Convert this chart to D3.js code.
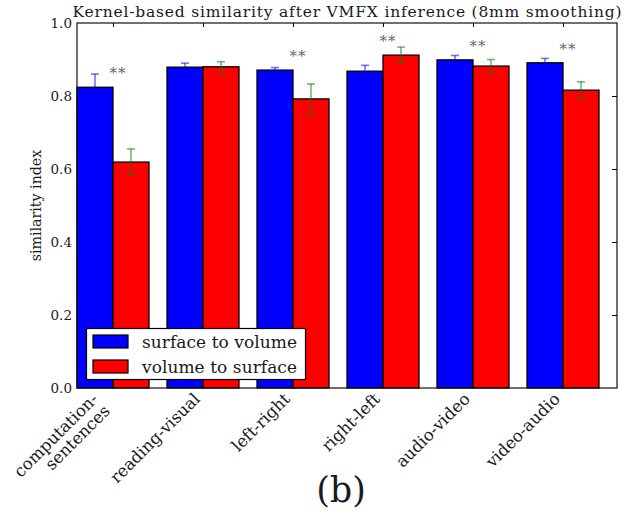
<!DOCTYPE html>
<html>
<head>
<meta charset="utf-8">
<script src="https://cdn.jsdelivr.net/npm/d3@7"></script>
<style>
  html, body { margin: 0; padding: 0; background: #fff; }
  svg { display: block; }
</style>
</head>
<body>
<script>
// Similarity index per contrast, for both projection directions
const categories = ["computation-\nsentences", "reading-visual", "left-right", "right-left", "audio-video", "video-audio"];
const surfaceToVolume    = [0.824, 0.879, 0.871, 0.868, 0.899, 0.891];
const surfaceToVolumeErr = [0.036, 0.011, 0.007, 0.016, 0.012, 0.012];
const volumeToSurface    = [0.619, 0.880, 0.792, 0.912, 0.882, 0.816];
const volumeToSurfaceErr = [0.036, 0.014, 0.041, 0.022, 0.018, 0.023];
const significant = [true, false, true, true, true, true];
const seriesNames = ["surface to volume", "volume to surface"];
const yTicks = [0.0, 0.2, 0.4, 0.6, 0.8, 1.0];
const titleText = "Kernel-based similarity after VMFX inference (8mm smoothing)";
const yLabel = "similarity index";
const panelLabel = "(b)";

const W = 636, H = 514;
const plot = { left: 77, right: 617, top: 23, bottom: 388 };
const barWidth = 0.4;
const colors = ["#0000ff", "#ff0000"];
const errColors = ["#0000ff", "#008000"];
const FONT = "'DejaVu Serif'";

const svg = d3.select("body").append("svg").attr("width", W).attr("height", H);

// every label shares the same serif face
function label(sel) {
  return sel.append("text").style("font-family", FONT).attr("fill", "#1a1a1a");
}

const x = d3.scaleLinear().domain([0, categories.length]).range([plot.left, plot.right]);
const y = d3.scaleLinear().domain([0, 1]).range([plot.bottom, plot.top]);

const series = [
  { name: seriesNames[0], values: surfaceToVolume, errs: surfaceToVolumeErr, offset: 0 },
  { name: seriesNames[1], values: volumeToSurface, errs: volumeToSurfaceErr, offset: barWidth }
];

// inward ticks on all four sides (drawn beneath the bars)
const ticks = svg.append("g").attr("stroke", "#000").attr("stroke-width", 1);
categories.forEach((c, i) => {
  const cx = Math.round(x(i + barWidth)) + 0.5;
  ticks.append("line").attr("x1", cx).attr("x2", cx).attr("y1", plot.top).attr("y2", plot.top + 4);
  ticks.append("line").attr("x1", cx).attr("x2", cx).attr("y1", plot.bottom).attr("y2", plot.bottom - 4);
});
yTicks.slice(1, -1).forEach(t => {
  const ty = Math.round(y(t)) + 0.5;
  ticks.append("line").attr("x1", plot.left).attr("x2", plot.left + 5).attr("y1", ty).attr("y2", ty);
  ticks.append("line").attr("x1", plot.right).attr("x2", plot.right - 5).attr("y1", ty).attr("y2", ty);
});

// bars
series.forEach((s, k) => {
  svg.append("g").selectAll("rect").data(s.values).join("rect")
    .attr("x", (d, i) => x(i + s.offset))
    .attr("y", d => y(d))
    .attr("width", x(barWidth) - x(0))
    .attr("height", d => y(0) - y(d))
    .attr("fill", colors[k])
    .attr("stroke", "#000")
    .attr("stroke-width", 1.3);
});

// error bars with caps (semi-transparent)
series.forEach((s, k) => {
  const g = svg.append("g").attr("stroke", errColors[k]).attr("stroke-opacity", 0.55).attr("stroke-width", 1.6);
  s.values.forEach((v, i) => {
    const cx = x(i + s.offset + barWidth / 2);
    const y1 = y(v + s.errs[i]), y2 = y(v - s.errs[i]);
    g.append("line").attr("x1", cx).attr("x2", cx).attr("y1", y1).attr("y2", y2);
    [y1, y2].forEach(yy => g.append("line").attr("x1", cx - 4).attr("x2", cx + 4).attr("y1", yy).attr("y2", yy));
  });
});

// frame
svg.append("rect")
  .attr("x", plot.left).attr("y", plot.top)
  .attr("width", plot.right - plot.left).attr("height", plot.bottom - plot.top)
  .attr("fill", "none").attr("stroke", "#111").attr("stroke-width", 1.2);

// significance markers above each pair
categories.forEach((c, i) => {
  if (!significant[i]) return;
  const top = Math.max(surfaceToVolume[i], volumeToSurface[i]);
  label(svg)
    .attr("x", x(i + barWidth) + 5)
    .attr("y", y(top) - 9)
    .attr("text-anchor", "middle")
    .attr("font-size", 15)
    .attr("letter-spacing", 1)
    .attr("fill", "#666")
    .text("**");
});

// y tick labels
yTicks.forEach(t => {
  label(svg)
    .attr("x", plot.left - 5)
    .attr("y", y(t) + 5)
    .attr("text-anchor", "end")
    .attr("font-size", 13.5)
    .text(t.toFixed(1));
});

// y axis label
label(svg)
  .attr("transform", `translate(41, ${(plot.top + plot.bottom) / 2}) rotate(-90)`)
  .attr("text-anchor", "middle")
  .attr("font-size", 14.2)
  .text(yLabel);

// title
label(svg)
  .attr("x", (plot.left + plot.right) / 2)
  .attr("y", 17)
  .attr("text-anchor", "middle")
  .attr("font-size", 15.5)
  .attr("textLength", 549)
  .attr("lengthAdjust", "spacing")
  .text(titleText);

// rotated category labels, right-aligned to the tick
const lineH = 17, c45 = Math.SQRT1_2;
categories.forEach((c, i) => {
  const lines = c.split("\n");
  const cx = x(i + barWidth);
  const n = lines.length;
  const ox = cx - 2 - (n - 1) * lineH * c45;
  const oy = 400;
  lines.forEach((ln, j) => {
    label(svg)
      .attr("transform", `translate(${ox + j * lineH * c45}, ${oy + j * lineH * c45}) rotate(-45)`)
      .attr("text-anchor", "end")
      .attr("font-size", 16.5)
      .text(ln);
  });
});

// legend
const leg = svg.append("g");
leg.append("rect").attr("x", 86.5).attr("y", 328.5).attr("width", 219).attr("height", 51)
  .attr("fill", "#fff").attr("stroke", "#000").attr("stroke-width", 1.2);
series.forEach((s, k) => {
  const ry = 335 + k * 25;
  leg.append("rect").attr("x", 93).attr("y", ry).attr("width", 35).attr("height", 13)
    .attr("fill", colors[k]).attr("stroke", "#000").attr("stroke-width", 1.2);
  label(leg).attr("x", 142).attr("y", ry + 12.5)
    .attr("font-size", 17)
    .attr("textLength", 155)
    .attr("lengthAdjust", "spacing")
    .text(s.name);
});

// panel label
label(svg)
  .attr("x", 341).attr("y", 502)
  .attr("text-anchor", "middle")
  .attr("font-size", 35)
  .text(panelLabel);
</script>
</body>
</html>
